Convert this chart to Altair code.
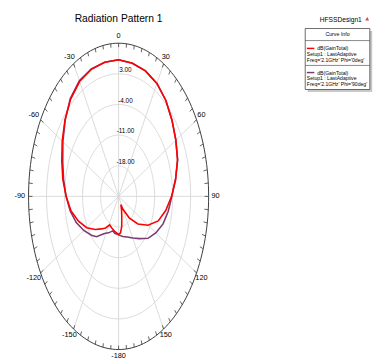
import math
import altair as alt
import pandas as pd

# ---------------- data ----------------
title_text = "Radiation Pattern 1"
R_MIN, R_MAX = -25.0, 10.0
ring_values = [3.0, -4.0, -11.0, -18.0]
ring_labels = ["3.00", "-4.00", "-11.00", "-18.00"]
spoke_angles = [0, 30, 60, 90, 120, 150, 180, 210, 240, 270, 300, 330]
angle_text = ["0", "30", "60", "90", "120", "150", "-180", "-150", "-120", "-90", "-60", "-30"]

phi0_angles = [0, 10, 20, 30, 40, 50, 60, 70, 80, 90, 100, 110, 120, 130, 140, 150, 155,
               160, 165, 170, 175, 180, 190, 200, 208, 215, 222, 230, 240, 250, 260, 270,
               280, 290, 300, 310, 320, 330, 340, 350, 360]
phi0_db = [6.2, 5.9, 5.5, 4.8, 3.6, 2.1, 0.7, -0.6, -2.5, -4.4, -6.4, -8.6, -11.8, -15.2,
           -18.6, -21.6, -22.9, -21.6, -20.2, -18.0, -16.6, -16.3, -16.8, -17.3, -17.6,
           -16.2, -15.0, -13.2, -10.7, -8.4, -6.2, -4.6, -3.0, -1.5, 0.3, 2.2, 4.0, 5.3,
           5.9, 6.1, 6.2]

phi90_angles = [0, 10, 20, 30, 40, 50, 60, 70, 80, 90, 100, 110, 120, 130, 140, 150, 160,
                170, 180, 190, 196, 205, 213, 223, 230, 240, 250, 260, 270, 280, 290, 300,
                310, 320, 330, 340, 350, 360]
phi90_db = [6.2, 5.9, 5.5, 4.8, 3.6, 2.1, 0.7, -0.6, -2.5, -4.3, -5.4, -6.6, -8.3, -10.1,
            -12.4, -14.0, -15.1, -15.7, -16.2, -16.4, -16.8, -15.8, -14.9, -12.4, -11.2,
            -9.4, -7.5, -5.9, -4.6, -3.3, -1.9, 0.0, 2.1, 4.2, 5.5, 6.0, 6.1, 6.2]

legend_header = "HFSSDesign1"
legend_box_title = "Curve Info"
series_names = ["dB(GainTotal)", "dB(GainTotal)"]
series_setup = ["Setup1 : LastAdaptive", "Setup1 : LastAdaptive"]
series_freq = ["Freq='2.1GHz' Phi='0deg'", "Freq='2.1GHz' Phi='90deg'"]
series_colors = ["#ff0000", "#7b3a70"]

# ---------------- layout ----------------
W, H = 184, 313
FONT = "Liberation Sans, Arial, sans-serif"
GRID = "#d6d6d6"
DARK = "#3a3a3a"
TXT = "#000000"

xs = alt.Scale(domain=[-1, 1], nice=False, zero=False)
ys = alt.Scale(domain=[-1, 1], nice=False, zero=False)


def norm(db):
    return (db - R_MIN) / (R_MAX - R_MIN)


# grid rings
ring_rows = []
for rv in ring_values + [R_MAX]:
    for a in range(0, 361, 2):
        t = math.radians(a)
        ring_rows.append({"ring": rv, "a": a, "x": norm(rv) * math.sin(t), "y": norm(rv) * math.cos(t)})
ring_df = pd.DataFrame(ring_rows)

grid_rings = alt.Chart(ring_df[ring_df.ring != R_MAX]).mark_line(color=GRID, strokeWidth=0.9).encode(
    x=alt.X("x:Q", scale=xs, axis=None), y=alt.Y("y:Q", scale=ys, axis=None),
    detail="ring:N", order="a:Q")
outer_ring = alt.Chart(ring_df[ring_df.ring == R_MAX]).mark_line(color=DARK, strokeWidth=1).encode(
    x=alt.X("x:Q", scale=xs, axis=None), y=alt.Y("y:Q", scale=ys, axis=None), order="a:Q")

# spokes
spoke_df = pd.DataFrame({"a": spoke_angles})
spokes = alt.Chart(spoke_df).transform_calculate(
    x0="0", y0="0",
    x1="sin(datum.a*PI/180)", y1="cos(datum.a*PI/180)"
).mark_rule(color=GRID, strokeWidth=0.9).encode(
    x=alt.X("x0:Q", scale=xs, axis=None), y=alt.Y("y0:Q", scale=ys, axis=None),
    x2="x1:Q", y2="y1:Q")

# ticks on the outer circle (pointing inward, 4px)
tick_rows = []
for a in range(0, 360, 5):
    t = math.radians(a)
    ox, oy = math.sin(t), math.cos(t)
    px, py = ox * W / 2, oy * H / 2
    n = math.hypot(px, py)
    L = 4.0
    tick_rows.append({"x": ox, "y": oy,
                      "xi": ox - L * (px / n) / (W / 2), "yi": oy - L * (py / n) / (H / 2)})
ticks = alt.Chart(pd.DataFrame(tick_rows)).mark_rule(color=DARK, strokeWidth=0.8).encode(
    x=alt.X("x:Q", scale=xs, axis=None), y=alt.Y("y:Q", scale=ys, axis=None),
    x2="xi:Q", y2="yi:Q")

# angle labels
lab_rows = []
for a, txt in zip(spoke_angles, angle_text):
    t = math.radians(a)
    ox, oy = math.sin(t), math.cos(t)
    px, py = ox * W / 2, oy * H / 2
    n = math.hypot(px, py)
    off = 7.0
    lx = ox + off * (px / n) / (W / 2)
    ly = oy + off * (py / n) / (H / 2)
    if txt.startswith("-") and txt != "-180":
        lx -= 2.0 / (W / 2)
    lab_rows.append({"x": lx, "y": ly, "t": txt})
angle_labels = alt.Chart(pd.DataFrame(lab_rows)).mark_text(
    font=FONT, fontSize=7.5, color=TXT, baseline="middle", align="center").encode(
    x=alt.X("x:Q", scale=xs, axis=None), y=alt.Y("y:Q", scale=ys, axis=None), text="t:N")

# ring labels
rl_df = pd.DataFrame({"v": ring_values, "t": ring_labels})
ring_text = alt.Chart(rl_df).transform_calculate(
    x="0", y=f"(datum.v - ({R_MIN}))/({R_MAX - R_MIN})"
).mark_text(font=FONT, fontSize=6.5, color=TXT, baseline="middle", align="center", dx=7, dy=-4).encode(
    x=alt.X("x:Q", scale=xs, axis=None), y=alt.Y("y:Q", scale=ys, axis=None), text="t:N")


def curve(angles, db, color):
    df = pd.DataFrame({"angle": angles, "db": db})
    return alt.Chart(df).transform_calculate(
        r=f"(datum.db - ({R_MIN}))/({R_MAX - R_MIN})"
    ).transform_calculate(
        x="datum.r*sin(datum.angle*PI/180)", y="datum.r*cos(datum.angle*PI/180)"
    ).mark_line(color=color, strokeWidth=1.6).encode(
        x=alt.X("x:Q", scale=xs, axis=None), y=alt.Y("y:Q", scale=ys, axis=None),
        order="angle:Q")


c90 = curve(phi90_angles, phi90_db, series_colors[1])
c0 = curve(phi0_angles, phi0_db, series_colors[0])

# title
one = pd.DataFrame({"k": [0]})
title = alt.Chart(one).mark_text(font=FONT, fontSize=10.5, color=TXT, align="center",
                                 baseline="middle").encode(
    x=alt.value(W / 2), y=alt.value(-25), text=alt.value(title_text))

# legend (positions relative to plot origin)
LX0, LX1, LY0, LY1 = 282.7, 348.7, -15, 47.3
shadow = alt.Chart(one).mark_rect(fill="#c8c8c8").encode(
    x=alt.value(LX0 + 2.5), x2=alt.value(LX1 + 2.5), y=alt.value(LY0 + 2.5), y2=alt.value(LY1 + 2.5))
box = alt.Chart(one).mark_rect(fill="white", stroke="#444444", strokeWidth=0.8).encode(
    x=alt.value(LX0), x2=alt.value(LX1), y=alt.value(LY0), y2=alt.value(LY1))
seps = alt.Chart(pd.DataFrame({"yy": [-2.7, 22.7]})).mark_rule(color="#555555", strokeWidth=0.7).encode(
    x=alt.value(LX0), x2=alt.value(LX1), y=alt.Y("yy:Q", scale=None))
header = alt.Chart(one).mark_text(font=FONT, fontSize=6.8, color=TXT, align="center", baseline="middle").encode(
    x=alt.value(319), y=alt.value(-24), text=alt.value(legend_header))
tri = alt.Chart(one).mark_point(shape="triangle-up", filled=True, size=16, color="#c0504d", opacity=1).encode(
    x=alt.value(346), y=alt.value(-25))
ci = alt.Chart(one).mark_text(font=FONT, fontSize=5.4, color=TXT, align="center", baseline="middle").encode(
    x=alt.value((LX0 + LX1) / 2), y=alt.value(-9.3), text=alt.value(legend_box_title))

leg_rows = []
for i in range(2):
    base = 5.3 + i * 24.7
    leg_rows.append({"t": series_names[i], "xx": 295.0, "yy": base})
    leg_rows.append({"t": series_setup[i], "xx": 284.3, "yy": base + 5.8})
    leg_rows.append({"t": series_freq[i], "xx": 284.3, "yy": base + 12.0})
leg_text = alt.Chart(pd.DataFrame(leg_rows)).mark_text(
    font=FONT, fontSize=5.2, color=TXT, align="left", baseline="middle").encode(
    x=alt.X("xx:Q", scale=None), y=alt.Y("yy:Q", scale=None), text="t:N")
sw_df = pd.DataFrame({"yy": [5.3, 30.0], "c": series_colors})
swatch = alt.Chart(sw_df).mark_rule(strokeWidth=1.5).encode(
    x=alt.value(284.3), x2=alt.value(292.0), y=alt.Y("yy:Q", scale=None),
    color=alt.Color("c:N", scale=None))

chart = alt.layer(
    grid_rings, spokes, outer_ring, ticks, ring_text, angle_labels, c90, c0,
    title, shadow, box, seps, header, tri, ci, leg_text, swatch
).properties(
    width=W, height=H,
    autosize=alt.AutoSizeParams(type="none"),
    padding={"left": 21, "top": 32, "right": 170, "bottom": 20},
).configure_view(stroke=None)

chart.save("out.html", embed_options={"renderer": "svg", "actions": False})
